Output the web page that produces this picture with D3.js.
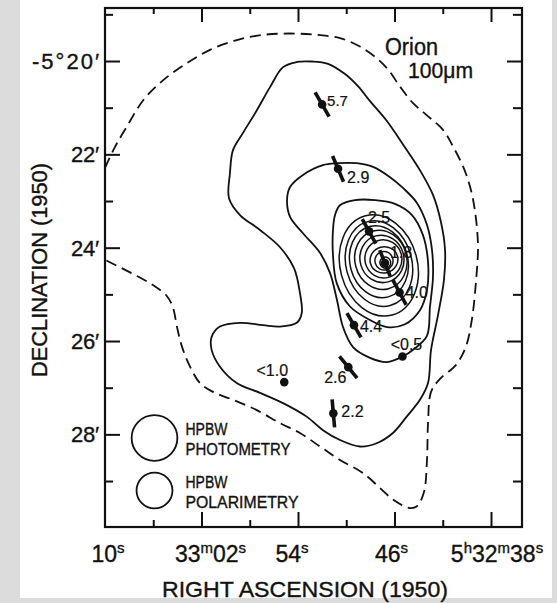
<!DOCTYPE html>
<html>
<head>
<meta charset="utf-8">
<title>Orion 100 micron</title>
<script src="https://d3js.org/d3.v7.min.js"></script>
<style>
  body { margin: 0; background: #dcdcdc; }
  svg text { font-family: "Liberation Sans", Arial, sans-serif; fill: #111; stroke: #111; stroke-width: 0.35; }
</style>
</head>
<body>
<svg width="557" height="603"></svg>
<script>
// RA in seconds after 5h32m (70 = 5h33m10s), Dec in arcmin south of -5 deg

// polarization points
var polLabels = ["5.7", "2.9", "2.5", "1.8", "4.0", "4.4", "<0.5", "2.6", "<1.0", "2.2"];
var polRA     = [52.0, 50.68, 48.11, 46.79, 45.58, 49.36, 45.34, 49.83, 55.14, 51.07];
var polDec    = [20.93, 22.31, 23.65, 24.33, 24.96, 25.66, 26.33, 26.56, 26.88, 27.55];
var polPA     = [30, 23, 29, 22, 28, 30, null, 39, null, 5];

// outer dashed contour (open, runs off the left edge)
var dashRA  = [70.0, 69.17, 68.20, 66.83, 65.17, 63.23, 61.30, 59.08, 56.88, 54.66, 52.45, 50.52, 48.86, 47.48, 46.51, 45.54, 44.44, 43.33, 41.96, 41.13, 40.30, 39.74, 39.33, 39.08, 39.24, 39.58, 40.07, 40.90, 42.23, 42.97, 43.22, 43.31, 43.56, 44.14, 44.72, 46.04, 48.61, 50.52, 52.18, 53.84, 55.49, 57.42, 59.39, 61.05, 62.13, 62.95, 63.62, 64.03, 64.36, 64.86, 66.02, 67.85, 70.0];
var dashDec = [22.29, 21.84, 21.41, 20.84, 20.41, 20.05, 19.76, 19.55, 19.44, 19.41, 19.44, 19.51, 19.69, 19.94, 20.19, 20.55, 20.91, 21.16, 21.48, 21.84, 22.27, 22.69, 23.21, 23.96, 24.71, 25.53, 26.11, 26.51, 26.81, 27.09, 27.76, 28.57, 29.24, 29.54, 29.58, 29.41, 28.83, 28.55, 28.26, 27.97, 27.76, 27.48, 27.26, 27.09, 26.90, 26.55, 26.12, 25.70, 25.29, 25.04, 24.80, 24.54, 24.26];

// first solid contour
var c1RA  = [55.24, 54.08, 52.84, 51.51, 50.10, 49.03, 48.03, 46.71, 45.21, 43.89, 42.81, 42.15, 41.81, 41.90, 42.39, 42.97, 43.22, 43.89, 44.99, 46.13, 47.48, 48.86, 50.52, 51.93, 53.28, 55.24, 57.15, 59.08, 60.47, 61.16, 61.16, 60.47, 58.81, 56.90, 55.49, 54.10, 53.69, 53.84, 54.33, 55.49, 57.15, 58.81, 59.72, 59.64, 59.39, 58.56, 57.40, 56.32];
var c1Dec = [20.13, 20.02, 20.01, 20.06, 20.28, 20.54, 20.86, 21.26, 21.82, 22.34, 22.87, 23.45, 24.05, 24.69, 25.44, 26.19, 26.90, 27.26, 27.62, 27.97, 28.19, 28.26, 28.12, 27.91, 27.62, 27.33, 27.11, 26.90, 26.55, 26.19, 25.91, 25.69, 25.61, 25.66, 25.69, 25.61, 25.40, 24.97, 24.44, 23.99, 23.62, 23.30, 22.94, 22.40, 21.91, 21.54, 21.05, 20.56];

// second solid contour
var c2RA  = [51.93, 50.77, 49.11, 47.78, 46.37, 45.30, 44.14, 43.31, 42.89, 42.81, 43.06, 43.31, 44.38, 45.38, 46.62, 48.03, 49.44, 50.27, 50.77, 51.35, 52.18, 53.59, 54.66, 54.91, 54.66, 53.59];
var c2Dec = [22.23, 22.19, 22.19, 22.27, 22.49, 22.72, 23.04, 23.51, 24.05, 24.63, 25.27, 25.89, 26.17, 26.34, 26.45, 26.36, 26.13, 25.70, 25.12, 24.54, 24.11, 23.69, 23.34, 22.98, 22.70, 22.44];

// third solid contour
var c3RA  = [50.52, 49.28, 47.62, 45.96, 44.55, 43.64, 43.22, 43.31, 43.89, 45.13, 46.62, 48.03, 49.69, 50.79, 51.10, 51.10, 50.93];
var c3Dec = [23.09, 22.98, 22.98, 23.06, 23.30, 23.73, 24.31, 24.91, 25.34, 25.64, 25.70, 25.55, 25.26, 24.76, 24.16, 23.62, 23.30];

// nested core contours: centre and half sizes (s of RA, arcmin of Dec)
var coreRA    = [47.30, 47.29, 47.29, 47.13, 47.04, 46.92, 46.87, 46.87, 46.76];
var coreDec   = [24.38, 24.34, 24.30, 24.26, 24.24, 24.24, 24.26, 24.28, 24.32];
var coreHalfS = [3.20, 2.73, 2.40, 2.15, 1.82, 1.53, 1.16, 0.75, 0.45];
var coreHalfM = [1.10, 0.93, 0.78, 0.64, 0.51, 0.41, 0.28, 0.20, 0.12];

// beam sizes (arcmin diameter)
var beamNames = [["HPBW", "PHOTOMETRY"], ["HPBW", "POLARIMETRY"]];
var beamDiam  = [0.98, 0.77];

// axis ticks
var raMajor  = [62, 54, 46, 38];
var raMinor  = [66, 58, 50, 42];
var decMajor = [20, 22, 24, 26, 28];
var decMinor = [19, 21, 23, 25, 27, 29];
var raTickVals = [70, 62, 54, 46, 38];
var raTickText = [[["10", ""], ["s", "sup"]],
                  [["33", ""], ["m", "sup"], ["02", ""], ["s", "sup"]],
                  [["54", ""], ["s", "sup"]],
                  [["46", ""], ["s", "sup"]],
                  [["5", ""], ["h", "sup"], ["32", ""], ["m", "sup"], ["38", ""], ["s", "sup"]]];
var decTickText = ["-5\u00b020\u2032", "22\u2032", "24\u2032", "26\u2032", "28\u2032"];

// layout
var raTickShift = [3, 9, -6, -3, 6];
var decTickWidth = [67, 28, 28, 28, 28];
var labelPlace = [
  {dx: 5, dy: -4, anchor: "start", size: 15},
  {dx: 9, dy: 8, anchor: "start", size: 16},
  {dx: 10, dy: -14, anchor: "middle", size: 16},
  {dx: 5, dy: -11, anchor: "start", size: 16},
  {dx: 6, dy: 0, anchor: "start", size: 16},
  {dx: 6, dy: 1, anchor: "start", size: 16},
  {dx: 4, dy: -12, anchor: "middle", size: 16},
  {dx: -13, dy: 10, anchor: "middle", size: 16},
  {dx: -12, dy: -12, anchor: "middle", size: 16},
  {dx: 8, dy: -2, anchor: "start", size: 16}
];

var svg = d3.select("svg");
var fLeft = 105, fRight = 522, fTop = 8, fBottom = 527;

// page background: paper with grey scan border
svg.append("rect").attr("x", 0).attr("y", 0).attr("width", 557).attr("height", 603).attr("fill", "#dcdcdc");
svg.append("rect").attr("x", 20).attr("y", 0).attr("width", 532).attr("height", 598).attr("fill", "#ffffff");

var x = d3.scaleLinear().domain([70, 35.43]).range([fLeft, fRight]);
var y = d3.scaleLinear().domain([18.864, 29.985]).range([fTop, fBottom]);

svg.append("clipPath").attr("id", "frame")
  .append("rect").attr("x", fLeft).attr("y", fTop).attr("width", fRight - fLeft).attr("height", fBottom - fTop);

var plot = svg.append("g").attr("clip-path", "url(#frame)");

function pts(ra, dec) {
  return ra.map(function(r, i) { return [x(r), y(dec[i])]; });
}

var lineClosed = d3.line().curve(d3.curveCatmullRomClosed.alpha(0.5));
var lineOpen = d3.line().curve(d3.curveCatmullRom.alpha(0.5));

plot.append("path")
  .attr("d", lineOpen(pts(dashRA, dashDec)))
  .attr("fill", "none").attr("stroke", "#111").attr("stroke-width", 1.8)
  .attr("stroke-dasharray", "11,6");

[[c1RA, c1Dec], [c2RA, c2Dec], [c3RA, c3Dec]].forEach(function(c) {
  plot.append("path")
    .attr("d", lineClosed(pts(c[0], c[1])))
    .attr("fill", "none").attr("stroke", "#111").attr("stroke-width", 1.8);
});

plot.selectAll("ellipse.core")
  .data(coreRA)
  .enter().append("ellipse")
    .attr("class", "core")
    .attr("cx", function(d) { return x(d); })
    .attr("cy", function(d, i) { return y(coreDec[i]); })
    .attr("rx", function(d, i) { return x(0) - x(coreHalfS[i]); })
    .attr("ry", function(d, i) { return y(coreHalfM[i]) - y(0); })
    .attr("transform", function(d, i) { return "rotate(-15," + x(d) + "," + y(coreDec[i]) + ")"; })
    .attr("fill", "none").attr("stroke", "#111").attr("stroke-width", 1.5);

// polarization vectors
var half = 14;
var pol = polLabels.map(function(l, i) { return {label: l, ra: polRA[i], dec: polDec[i], pa: polPA[i], place: labelPlace[i]}; });

plot.selectAll("line.vec")
  .data(pol.filter(function(d) { return d.pa !== null; }))
  .enter().append("line")
    .attr("class", "vec")
    .attr("x1", function(d) { return x(d.ra) - half * Math.sin(d.pa * Math.PI / 180); })
    .attr("y1", function(d) { return y(d.dec) - half * Math.cos(d.pa * Math.PI / 180); })
    .attr("x2", function(d) { return x(d.ra) + half * Math.sin(d.pa * Math.PI / 180); })
    .attr("y2", function(d) { return y(d.dec) + half * Math.cos(d.pa * Math.PI / 180); })
    .attr("stroke", "#111").attr("stroke-width", 3.6);

plot.selectAll("circle.dot")
  .data(pol)
  .enter().append("circle")
    .attr("class", "dot")
    .attr("cx", function(d) { return x(d.ra); })
    .attr("cy", function(d) { return y(d.dec); })
    .attr("r", 4.3).attr("fill", "#111");

svg.selectAll("text.pl")
  .data(pol)
  .enter().append("text")
    .attr("class", "pl")
    .attr("x", function(d) { return x(d.ra) + d.place.dx; })
    .attr("y", function(d) { return y(d.dec) + d.place.dy; })
    .attr("dy", "0.36em")
    .attr("text-anchor", function(d) { return d.place.anchor; })
    .attr("font-size", function(d) { return d.place.size; })
    .style("stroke-width", 0.2)
    .text(function(d) { return d.label; });

// beams legend
var beamY = [438, 490.5];
var legend = svg.selectAll("g.beam")
  .data(beamDiam)
  .enter().append("g")
    .attr("class", "beam")
    .attr("transform", function(d, i) { return "translate(154.5," + beamY[i] + ")"; });

legend.append("circle")
  .attr("r", function(d) { return (y(d / 2) - y(0)); })
  .attr("fill", "none").attr("stroke", "#111").attr("stroke-width", 1.8);

var legendWidths = [[42, 105], [42, 113]];
legend.each(function(d, i) {
  var g = d3.select(this);
  beamNames[i].forEach(function(t, j) {
    g.append("text")
      .attr("x", 31).attr("y", j === 0 ? -3 : 17)
      .attr("font-size", 17)
      .attr("textLength", legendWidths[i][j]).attr("lengthAdjust", "spacingAndGlyphs")
      .text(t);
  });
});

// frame and ticks
svg.append("rect")
  .attr("x", fLeft).attr("y", fTop).attr("width", fRight - fLeft).attr("height", fBottom - fTop)
  .attr("fill", "none").attr("stroke", "#111").attr("stroke-width", 2.2);

function tickAxis(axis, vals, len, tx) {
  var g = svg.append("g").attr("transform", tx)
    .call(axis.tickValues(vals).tickSizeInner(-len).tickSizeOuter(0).tickFormat(""));
  g.select(".domain").remove();
  g.selectAll("line").attr("stroke", "#111").attr("stroke-width", 2);
}
tickAxis(d3.axisBottom(x), raMajor, 15, "translate(0," + fBottom + ")");
tickAxis(d3.axisBottom(x), raMinor, 7, "translate(0," + fBottom + ")");
tickAxis(d3.axisTop(x), raMajor, 14, "translate(0," + fTop + ")");
tickAxis(d3.axisTop(x), raMinor, 6, "translate(0," + fTop + ")");
tickAxis(d3.axisLeft(y), decMajor, 15, "translate(" + fLeft + ",0)");
tickAxis(d3.axisLeft(y), decMinor, 8, "translate(" + fLeft + ",0)");
tickAxis(d3.axisRight(y), decMajor, 15, "translate(" + fRight + ",0)");
tickAxis(d3.axisRight(y), decMinor, 9, "translate(" + fRight + ",0)");

// tick labels
svg.selectAll("text.dec")
  .data(decMajor)
  .enter().append("text")
    .attr("class", "dec")
    .attr("x", fLeft - 6)
    .attr("y", function(d) { return y(d); })
    .attr("dy", "0.36em")
    .attr("text-anchor", "end")
    .attr("font-size", 22)
    .attr("textLength", function(d, i) { return decTickWidth[i]; })
    .attr("lengthAdjust", "spacing")
    .text(function(d, i) { return decTickText[i]; });

var raLab = svg.selectAll("text.ra")
  .data(raTickVals)
  .enter().append("text")
    .attr("class", "ra")
    .attr("x", function(d, i) { return x(d) + raTickShift[i]; })
    .attr("y", 562)
    .attr("text-anchor", "middle")
    .attr("font-size", 23);

raLab.each(function(d, i) {
  var t = d3.select(this);
  raTickText[i].forEach(function(p) {
    var s = t.append("tspan").text(p[0]);
    if (p[1] === "sup") s.attr("font-size", 15).attr("baseline-shift", "60%");
  });
});

// titles
svg.append("text")
  .attr("x", 305).attr("y", 597)
  .attr("text-anchor", "middle").attr("font-size", 22)
  .attr("textLength", 286).attr("lengthAdjust", "spacingAndGlyphs")
  .text("RIGHT  ASCENSION  (1950)");

svg.append("text")
  .attr("transform", "translate(47,270) rotate(-90)")
  .attr("text-anchor", "middle").attr("font-size", 22)
  .attr("textLength", 214).attr("lengthAdjust", "spacingAndGlyphs")
  .text("DECLINATION (1950)");

svg.append("text")
  .attr("x", 385).attr("y", 55).attr("font-size", 23)
  .attr("textLength", 53).attr("lengthAdjust", "spacingAndGlyphs")
  .text("Orion");

svg.append("text")
  .attr("x", 408).attr("y", 78).attr("font-size", 22)
  .attr("textLength", 65).attr("lengthAdjust", "spacingAndGlyphs")
  .text("100\u03bcm");
</script>
</body>
</html>
